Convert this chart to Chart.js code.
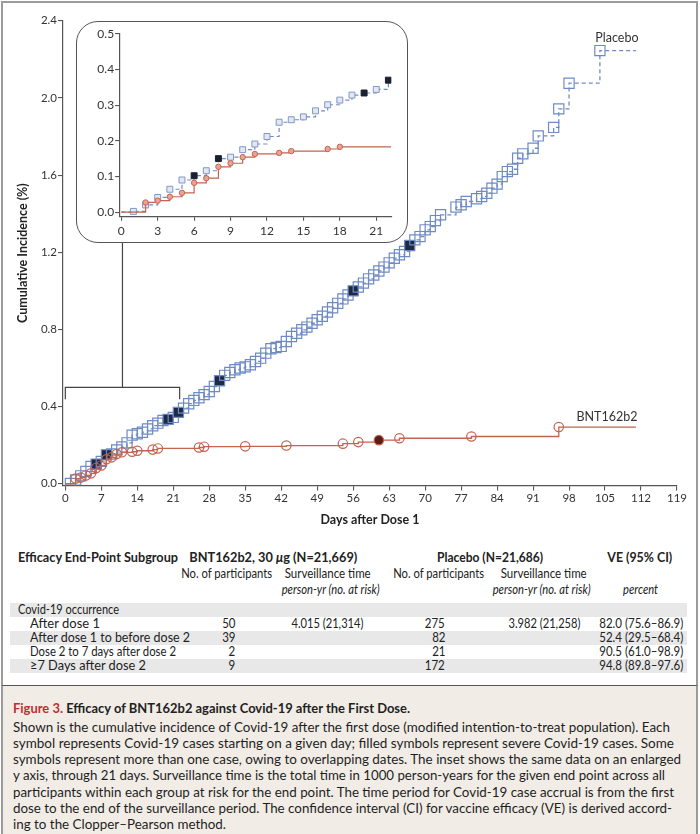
<!DOCTYPE html>
<html><head><meta charset="utf-8">
<script src="https://cdn.jsdelivr.net/npm/chart.js@4.4.1/dist/chart.umd.min.js"></script>
<style>
html,body{margin:0;padding:0;background:#fff;width:700px;height:834px;overflow:hidden;font-family:Lato,"Open Sans",sans-serif;color:#222;}
#frame{position:absolute;left:1px;top:1px;width:697px;height:685px;box-sizing:border-box;border:2px solid #9b9b9b;border-bottom:1.6px solid #555;background:#fff;}
#caption{position:absolute;left:1px;top:686px;width:697px;height:150px;box-sizing:border-box;border-left:2px solid #9b9b9b;border-right:2px solid #9b9b9b;background:#f1ede6;}
#main{position:absolute;left:0;top:0;}
#insetBox{position:absolute;left:76px;top:20.5px;width:332px;height:222px;box-sizing:border-box;border:1.4px solid #555;border-radius:22px;background:#fff;overflow:hidden;}
#inset{position:absolute;left:0;top:0;}
.t{position:absolute;white-space:nowrap;line-height:16px;}
.band{position:absolute;left:10px;width:677px;height:14px;background:#e8e8e8;}
</style></head>
<body>
<div id="frame"></div>
<div id="caption"></div>
<canvas id="main" width="700" height="540"></canvas>
<div id="insetBox"><canvas id="inset" width="329" height="219"></canvas></div>
<div id="tableLayer"></div>
<script>
// ---------------- data ----------------
const xTickValues = [0,7,14,21,28,35,42,49,56,63,70,77,84,91,98,105,112,119];
const yTickValues = [0,0.4,0.8,1.2,1.6,2.0,2.4];
const insetXTickValues = [0,3,6,9,12,15,18,21];
const insetYTickValues = [0,0.1,0.2,0.3,0.4,0.5];

const placeboDays = [1,2,3,4,5,6,7,8,9,10,11,12,13,14,15,16,17,18,19,20,21,22,23,24,25,26,27,28,29,30,31,32,33,34,35,36,37,38,39,40,41,42,43,44,45,46,47,48,49,50,51,52,53,54,55,56,57,58,59,60,61,62,63,64,65,66,67,68,69,70,71,72,73,76,77,78,80,81,82,83,84,85,86,87,88,89,91,92,95,96,98,104];
const placeboIncidence = [0.002,0.020,0.041,0.064,0.090,0.102,0.116,0.150,0.154,0.175,0.191,0.212,0.252,0.259,0.267,0.284,0.301,0.314,0.328,0.334,0.344,0.370,0.392,0.415,0.432,0.446,0.462,0.478,0.504,0.534,0.562,0.577,0.591,0.600,0.606,0.617,0.634,0.651,0.677,0.700,0.706,0.712,0.737,0.763,0.780,0.798,0.812,0.832,0.850,0.868,0.890,0.912,0.935,0.958,0.978,1.000,1.020,1.040,1.062,1.082,1.103,1.123,1.145,1.169,1.187,1.204,1.235,1.264,1.281,1.316,1.333,1.364,1.394,1.434,1.446,1.463,1.477,1.489,1.506,1.532,1.553,1.592,1.618,1.630,1.687,1.710,1.739,1.803,1.847,1.943,2.076,2.245];
const placeboSevereDays = [6,8,20,22,30,56,67];

const bntDays = [2,3,4,5,6,7,8,9,10,11,13,14,17,18,26,27,35,43,54,57,61,65,79,96];
const bntIncidence = [0.027,0.032,0.043,0.054,0.082,0.095,0.127,0.137,0.154,0.163,0.166,0.171,0.177,0.183,0.188,0.192,0.194,0.198,0.208,0.216,0.226,0.236,0.245,0.294];
const bntSevereDays = [61];

const followUpEndDay = 111;
const insetXMax = 22.24;
const insetYMax = 0.5;

const subgroupLabels = ["After dose 1","After dose 1 to before dose 2","Dose 2 to 7 days after dose 2","\u22657 Days after dose 2"];
const bntCases = [50,39,2,9];
const bntSurveillance = ["4.015 (21,314)","","",""];
const placeboCases = [275,82,21,172];
const placeboSurveillance = ["3.982 (21,258)","","",""];
const veCI = ["82.0 (75.6\u201386.9)","52.4 (29.5\u201368.4)","90.5 (61.0\u201398.9)","94.8 (89.8\u201397.6)"];

const captionTitleRed = "Figure 3.";
const captionTitle = "Efficacy of BNT162b2 against Covid-19 after the First Dose.";
const captionLines = [
 "Shown is the cumulative incidence of Covid-19 after the first dose (modified intention-to-treat population). Each",
 "symbol represents Covid-19 cases starting on a given day; filled symbols represent severe Covid-19 cases. Some",
 "symbols represent more than one case, owing to overlapping dates. The inset shows the same data on an enlarged",
 "y axis, through 21 days. Surveillance time is the total time in 1000 person-years for the given end point across all",
 "participants within each group at risk for the end point. The time period for Covid-19 case accrual is from the first",
 "dose to the end of the surveillance period. The confidence interval (CI) for vaccine efficacy (VE) is derived accord-",
 "ing to the Clopper\u2013Pearson method."
];

// ---------------- styles ----------------
const FONT = 'Lato, "Open Sans", sans-serif';
const BLUE = '#6f8bc4';
const RED = '#c4634f';
const AX = '#555';

function series(days, vals, xEnd){
  const pts = [{x:0,y:0}];
  days.forEach((d,i)=>{ if (d <= xEnd) pts.push({x:d,y:vals[i]}); });
  pts.push({x:xEnd, y:pts[pts.length-1].y});
  return pts;
}
function radius(r){ return c => (c.dataIndex===0 || c.dataIndex===c.dataset.data.length-1) ? 0 : r; }
function fillFor(severe, sevColor, normal){ return c => (c.raw && severe.includes(c.raw.x)) ? sevColor : normal; }

function scaleX(min,max,ticks,opt){
  return {type:'linear',min,max,position:'bottom',
    afterBuildTicks:s=>{s.ticks=ticks.map(v=>({value:v}));},
    afterFit:s=>{s.height=opt.h;},
    grid:{display:true,drawOnChartArea:false,drawTicks:true,tickLength:opt.tl,color:AX,lineWidth:1.1},
    border:{display:true,color:AX,width:1.2},
    ticks:{padding:opt.pad,color:'#333',font:{family:FONT,size:opt.fs},maxRotation:0,autoSkip:false},
    title:opt.title?{display:true,text:opt.title,color:'#222',font:{family:FONT,size:12.5,weight:'bold'},padding:{top:0,bottom:opt.tpad}}:{display:false}
  };
}
function scaleY(min,max,ticks,opt){
  return {type:'linear',min,max,position:'left',
    afterBuildTicks:s=>{s.ticks=ticks.map(v=>({value:v}));},
    afterFit:s=>{s.width=opt.w;},
    grid:{display:true,drawOnChartArea:false,drawTicks:true,tickLength:opt.tl,color:AX,lineWidth:1.1},
    border:{display:true,color:AX,width:1.2},
    ticks:{padding:opt.pad,color:'#333',font:{family:FONT,size:opt.fs},callback:v=>Number(v).toFixed(1),autoSkip:false},
    title:opt.title?{display:true,text:opt.title,color:'#222',font:{family:FONT,size:12.5,weight:'bold'},padding:{top:opt.tpad,bottom:0}}:{display:false}
  };
}

const insetBottomPx = 20.5 + 222;
const annotations = {
  id:'annotations',
  afterDatasetsDraw(chart){
    const {ctx, scales:{x,y}} = chart;
    ctx.save();
    ctx.strokeStyle='#444'; ctx.lineWidth=1.2;
    const bx0=x.getPixelForValue(0), bx1=x.getPixelForValue(insetXMax), by=y.getPixelForValue(insetYMax);
    const mx=x.getPixelForValue(insetXMax/2);
    ctx.beginPath();
    ctx.moveTo(bx0,by+12); ctx.lineTo(bx0,by); ctx.lineTo(bx1,by); ctx.lineTo(bx1,by+12);
    ctx.moveTo(mx,by); ctx.lineTo(mx,insetBottomPx);
    ctx.stroke();
    ctx.font='12.5px '+FONT; ctx.fillStyle='#333'; ctx.textAlign='center'; ctx.textBaseline='middle';
    const pl = placeboDays.length-1, bl = bntDays.length-1;
    ctx.fillText('Placebo', x.getPixelForValue(placeboDays[pl])+17, y.getPixelForValue(placeboIncidence[pl])-13);
    ctx.fillText('BNT162b2', x.getPixelForValue(followUpEndDay)-29, y.getPixelForValue(bntIncidence[bl])-10);
    ctx.restore();
  }
};

new Chart(document.getElementById('main'), {
  type:'line',
  data:{datasets:[
    {label:'BNT162b2',data:series(bntDays,bntIncidence,followUpEndDay),stepped:'before',fill:false,
     borderColor:RED,borderWidth:1.3,pointStyle:'circle',pointRadius:radius(4.7),pointBorderColor:RED,pointBorderWidth:1.2,
     pointBackgroundColor:fillFor(bntSevereDays,'#5b1d17','rgba(0,0,0,0)')},
    {label:'Placebo',data:series(placeboDays,placeboIncidence,followUpEndDay),stepped:'before',fill:false,
     borderColor:BLUE,borderWidth:1.3,borderDash:[4,3],pointStyle:'rect',pointRadius:radius(7.2),pointBorderColor:BLUE,pointBorderWidth:1.2,
     pointBackgroundColor:fillFor(placeboSevereDays,'#1e2a45','rgba(0,0,0,0)')}
  ]},
  options:{responsive:false,animation:false,
    layout:{padding:{left:0,top:20.7,right:23,bottom:0}},
    plugins:{legend:{display:false},tooltip:{enabled:false}},
    scales:{
      x:scaleX(-0.45,119,xTickValues,{h:54.5,tl:5,pad:1,fs:11.5,title:'Days after Dose 1',tpad:12.5}),
      y:scaleY(-0.009,2.4,yTickValues,{w:63,tl:5,pad:1,fs:11.5,title:'Cumulative Incidence (%)',tpad:15.5})
    }
  },
  plugins:[annotations]
});

new Chart(document.getElementById('inset'), {
  type:'line',
  data:{datasets:[
    {label:'BNT162b2',data:series(bntDays,bntIncidence,insetXMax),stepped:'before',fill:false,
     borderColor:RED,borderWidth:1.2,pointStyle:'circle',pointRadius:radius(2.7),pointBorderColor:RED,pointBorderWidth:1,
     pointBackgroundColor:fillFor(bntSevereDays,'#5b1d17','#e8a593')},
    {label:'Placebo',data:series(placeboDays,placeboIncidence,insetXMax),stepped:'before',fill:false,
     borderColor:BLUE,borderWidth:1.2,borderDash:[4,3],pointStyle:'rect',pointRadius:radius(4.2),pointBorderColor:fillFor(placeboSevereDays,'#1a2030','#8197c8'),pointBorderWidth:1,
     pointBackgroundColor:fillFor(placeboSevereDays,'#1a2030','#e3e7f0')}
  ]},
  options:{responsive:false,animation:false,
    layout:{padding:{left:0,top:11.8,right:14.7,bottom:0}},
    plugins:{legend:{display:false},tooltip:{enabled:false}},
    scales:{
      x:scaleX(-0.18,insetXMax,insetXTickValues,{h:24.2,tl:4,pad:3,fs:12}),
      y:scaleY(-0.0132,insetYMax,insetYTickValues,{w:42.1,tl:4,pad:1,fs:12})
    }
  }
});

// ---------------- table & caption (HTML text) ----------------
function place(parent, text, o){
  const el=document.createElement('span'); el.className='t';
  if (o.html) el.innerHTML=text; else el.textContent=text;
  el.style.fontSize=(o.size||12.5)+'px'; el.style.fontWeight=o.weight||'normal';
  el.style.fontStyle=o.style||'normal'; el.style.color=o.color||'#222';
  parent.appendChild(el);
  const nat=el.getBoundingClientRect().width;
  const k=o.w? o.w/nat : (o.k||0.92);
  const align=o.align||'left';
  const left= align==='left'? o.x : align==='center'? o.x-nat/2 : o.x-nat;
  el.style.left=left+'px'; el.style.top=(o.y-8)+'px';
  el.style.transformOrigin= align==='left'?'left center': align==='center'?'center center':'right center';
  el.style.transform='scaleX('+k+')';
  el._k=k;
  return el;
}
function build(){
  const L=document.getElementById('tableLayer');
  const rowY0=609.5, rowH=14;
  for (let i=0;i<=subgroupLabels.length;i+=2){
    const b=document.createElement('div'); b.className='band'; b.style.top=(rowY0+i*rowH-7)+'px'; L.appendChild(b);
  }
  place(L,'Efficacy End-Point Subgroup',{x:18,y:557.5,weight:'bold',w:160});
  place(L,'BNT162b2, 30 <i>\u03bc</i>g (N=21,669)',{html:true,x:273,y:557.5,align:'center',weight:'bold',w:168});
  place(L,'Placebo (N=21,686)',{x:490,y:557.5,align:'center',weight:'bold',w:106});
  place(L,'VE (95% CI)',{x:640,y:557.5,align:'center',weight:'bold',w:65});
  place(L,'No. of participants',{x:227,y:574,align:'center',w:91});
  place(L,'Surveillance time',{x:328,y:574,align:'center',w:86});
  place(L,'No. of participants',{x:439,y:574,align:'center',w:91});
  place(L,'Surveillance time',{x:544,y:574,align:'center',w:86});
  place(L,'person-yr (no. at risk)',{x:331,y:590,align:'center',style:'italic',w:98});
  place(L,'person-yr (no. at risk)',{x:542,y:590,align:'center',style:'italic',w:98});
  place(L,'percent',{x:641,y:590,align:'center',style:'italic',w:35});
  place(L,'Covid-19 occurrence',{x:18,y:rowY0,w:101});
  const labelW=[70,160,146,116];
  subgroupLabels.forEach((s,i)=>{
    const y=rowY0+(i+1)*rowH;
    place(L,s,{x:30,y,w:labelW[i]});
    place(L,String(bntCases[i]),{x:235,y,align:'right'});
    if (bntSurveillance[i]) place(L,bntSurveillance[i],{x:327,y,align:'center',w:72});
    place(L,String(placeboCases[i]),{x:445,y,align:'right'});
    if (placeboSurveillance[i]) place(L,placeboSurveillance[i],{x:544,y,align:'center',w:72});
    place(L,veCI[i],{x:683,y,align:'right',w:84});
  });
  // caption
  place(L,'<span style="color:#b8312f">'+captionTitleRed+'</span> '+captionTitle,{html:true,x:13,y:708,size:14,weight:'bold',w:397});
  const capW=[657,661,668,652,661,659];
  let ksum=0;
  captionLines.forEach((s,i)=>{
    const y=726.5+i*16.3;
    if (i<capW.length){ const e=place(L,s,{x:13,y,size:14,color:'#1e1e1e',w:capW[i]}); ksum+=e._k; }
    else place(L,s,{x:13,y,size:14,color:'#1e1e1e',k:ksum/capW.length});
  });
}
if (document.fonts && document.fonts.ready) document.fonts.ready.then(build); else build();
</script>
</body></html>
